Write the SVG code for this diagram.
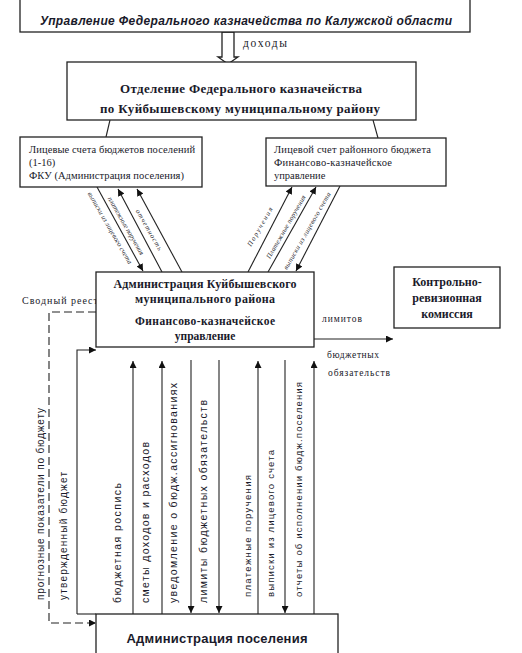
<svg xmlns="http://www.w3.org/2000/svg" width="522" height="653" viewBox="0 0 522 653">
<style>
.box{fill:#fff;stroke:#222;stroke-width:1.3}
.ln{fill:none;stroke:#222;stroke-width:1.1}
.dash{fill:none;stroke:#222;stroke-width:1.1;stroke-dasharray:8,4}
.sb{font-family:"Liberation Serif","Times New Roman","DejaVu Serif",serif;font-weight:bold;fill:#1a1a2a}
.sr{font-family:"Liberation Serif","Times New Roman","DejaVu Serif",serif;fill:#1a1a2a}
.ss{font-family:"Liberation Sans",Arial,sans-serif;fill:#1a1a2a}
.di{font-family:"Liberation Serif","Times New Roman","DejaVu Serif",serif;font-style:italic;font-size:7px;fill:#2a2a30}
</style>
<defs>
<marker id="ah" viewBox="0 0 10 10" refX="10" refY="5" markerWidth="7" markerHeight="7" orient="auto" markerUnits="userSpaceOnUse">
<path d="M0,0 L10,5 L0,10 z" fill="#111"/>
</marker>
</defs>
<rect width="522" height="653" fill="#fff"/>

<g id="connectors">
<polygon class="box" points="222,32 222,57 218,57 228,64 238,57 234,57 234,32"/>
<line class="ln" x1="110" y1="120" x2="106" y2="137"/>
<line class="ln" x1="373" y1="120" x2="378" y2="138"/>
<line class="ln" x1="97" y1="187" x2="143" y2="271" marker-end="url(#ah)"/>
<line class="ln" x1="162" y1="272" x2="118" y2="189" marker-end="url(#ah)"/>
<line class="ln" x1="182" y1="272" x2="137" y2="189" marker-end="url(#ah)"/>
<line class="ln" x1="248" y1="272" x2="292" y2="187" marker-end="url(#ah)"/>
<line class="ln" x1="268" y1="272" x2="316" y2="187" marker-end="url(#ah)"/>
<line class="ln" x1="340" y1="186" x2="296" y2="271" marker-end="url(#ah)"/>
<line class="ln" x1="312" y1="339" x2="393" y2="339" marker-end="url(#ah)"/>
<polyline class="ln" points="77,614 77,350 96,350" marker-end="url(#ah)"/>
<line class="ln" x1="77" y1="614" x2="96" y2="614"/>
<polyline class="dash" points="96,312 49,312 49,623 96,623" marker-end="url(#ah)"/>
<line class="ln" x1="133" y1="614" x2="133" y2="361" marker-end="url(#ah)"/>
<line class="ln" x1="162" y1="614" x2="162" y2="361" marker-end="url(#ah)"/>
<line class="ln" x1="191" y1="360" x2="191" y2="613" marker-end="url(#ah)"/>
<line class="ln" x1="219" y1="360" x2="219" y2="613" marker-end="url(#ah)"/>
<line class="ln" x1="258" y1="614" x2="258" y2="361" marker-end="url(#ah)"/>
<line class="ln" x1="285" y1="360" x2="285" y2="613" marker-end="url(#ah)"/>
<line class="ln" x1="314" y1="614" x2="314" y2="361" stroke-width="1.6" marker-end="url(#ah)"/>
</g>

<g id="edge-labels">
<text class="sr" x="243" y="47" font-size="11.5" textLength="44">доходы</text>
<text class="sr" x="22" y="304" font-size="10" textLength="82">Сводный реестр</text>
<text class="sr" x="322" y="322" font-size="9.5" textLength="40">лимитов</text>
<text class="sr" x="327" y="358" font-size="9.5" textLength="52">бюджетных</text>
<text class="sr" x="328" y="376" font-size="9.5" textLength="62">обязательств</text>
<text class="di" transform="translate(108,229) rotate(60)" text-anchor="middle" textLength="82">выписки из лицевого счета</text>
<text class="di" transform="translate(124,227) rotate(60)" text-anchor="middle" textLength="66">платежные поручения</text>
<text class="di" transform="translate(147,231) rotate(60)" text-anchor="middle" textLength="46">отчетность</text>
<text class="di" transform="translate(262,228) rotate(-60)" text-anchor="middle" textLength="44">Поручения</text>
<text class="di" transform="translate(288,228) rotate(-60)" text-anchor="middle" textLength="72">Платежные поручения</text>
<text class="di" transform="translate(309,232) rotate(-60)" text-anchor="middle" textLength="88">выписки из лицевого счета</text>
<text class="ss" transform="translate(44,600) rotate(-90)" font-size="10" textLength="192">прогнозные показатели по бюджету</text>
<text class="ss" transform="translate(67,600) rotate(-90)" font-size="10" textLength="128">утвержденный бюджет</text>
<text class="ss" transform="translate(121,603) rotate(-90)" font-size="10.5" textLength="120">бюджетная роспись</text>
<text class="ss" transform="translate(149,603) rotate(-90)" font-size="10.5" textLength="161">сметы доходов и расходов</text>
<text class="ss" transform="translate(177,603) rotate(-90)" font-size="10.5" textLength="220">уведомление о бюдж.ассигнованиях</text>
<text class="ss" transform="translate(207,603) rotate(-90)" font-size="10.5" textLength="203">лимиты бюджетных обязательств</text>
<text class="ss" transform="translate(251,597) rotate(-90)" font-size="9.5" textLength="122">платежные поручения</text>
<text class="ss" transform="translate(274,597) rotate(-90)" font-size="9.5" textLength="147">выписки из лицевого счета</text>
<text class="ss" transform="translate(302,597) rotate(-90)" font-size="9.5" textLength="215">отчеты об исполнении бюдж.поселения</text>
</g>

<g id="node-ufk">
<rect class="box" x="20" y="-5" width="450" height="37"/>
<text class="ss" x="40" y="25" font-size="12" font-weight="bold" font-style="italic" textLength="412">Управление Федерального  казначейства по Калужской  области</text>
</g>

<g id="node-ofk">
<rect class="box" x="67" y="62" width="349" height="58"/>
<text class="sb" x="241" y="93" font-size="13" text-anchor="middle" textLength="242">Отделение Федерального казначейства</text>
<text class="sb" x="240" y="113" font-size="13" text-anchor="middle" textLength="280">по Куйбышевскому муниципальному району</text>
</g>

<g id="node-ls-pos">
<rect class="box" x="20" y="137" width="182" height="50"/>
<text class="sr" x="29" y="153" font-size="10.5" textLength="166">Лицевые счета бюджетов поселений</text>
<text class="sr" x="29" y="166" font-size="10.5">(1-16)</text>
<text class="sr" x="29" y="179" font-size="10.5" textLength="155">ФКУ (Администрация поселения)</text>
</g>

<g id="node-ls-rayon">
<rect class="box" x="266" y="138" width="180" height="48"/>
<text class="sr" x="274" y="153" font-size="10.5" textLength="157">Лицевой счет районного бюджета</text>
<text class="sr" x="274" y="166" font-size="10.5" textLength="118">Финансово-казначейское</text>
<text class="sr" x="274" y="179" font-size="10.5">управление</text>
</g>

<g id="node-admin-rayon">
<rect class="box" x="96" y="272" width="218" height="75"/>
<text class="sb" x="205" y="288" font-size="12" text-anchor="middle" textLength="183">Администрация Куйбышевского</text>
<text class="sb" x="205" y="303" font-size="12" text-anchor="middle" textLength="140">муниципального района</text>
<text class="sb" x="205" y="325" font-size="11.5" text-anchor="middle" textLength="140">Финансово-казначейское</text>
<text class="sb" x="205" y="340" font-size="11.5" text-anchor="middle">управление</text>
</g>

<g id="node-krk">
<rect class="box" x="394" y="267" width="106" height="61"/>
<text class="sb" x="447" y="286" font-size="12" text-anchor="middle">Контрольно-</text>
<text class="sb" x="447" y="302" font-size="12" text-anchor="middle">ревизионная</text>
<text class="sb" x="447" y="318" font-size="12" text-anchor="middle">комиссия</text>
</g>

<g id="node-admin-pos">
<rect class="box" x="96" y="614" width="242" height="50"/>
<text class="ss" x="217" y="643" font-size="13" font-weight="bold" text-anchor="middle" textLength="181">Администрация поселения</text>
</g>
</svg>
